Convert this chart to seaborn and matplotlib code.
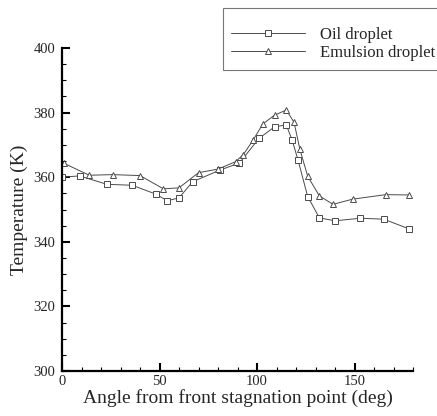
import matplotlib
matplotlib.use("Agg")
import matplotlib.pyplot as plt
from matplotlib.ticker import MultipleLocator
import seaborn as sns
import pandas as pd

oil_angle = [0, 9, 23, 36, 48, 54, 60, 67, 81, 91, 101, 109, 115, 118, 121, 126, 132, 140, 153, 165, 178]
oil_temp = [360, 360.4, 357.8, 357.5, 354.8, 352.7, 353.6, 358.6, 362.2, 364.4, 372, 375.6, 376.2, 371.5,
            365.4, 354, 347.4, 346.5, 347.3, 347, 344]

emu_angle = [1, 14, 26, 40, 52, 60, 70, 80, 89, 93, 98, 103, 109, 115, 119, 122, 126, 132, 139, 149, 166, 178]
emu_temp = [364.3, 360.6, 360.8, 360.5, 356.4, 356.7, 361.4, 362.5, 364.8, 367, 371.5, 376.5, 379.2, 380.8,
            377, 368.6, 360.3, 354.2, 351.6, 353.2, 354.6, 354.5]

series_labels = ["Oil droplet", "Emulsion droplet"]
x_ticks = [0, 50, 100, 150]
y_ticks = [300, 320, 340, 360, 380, 400]

sns.set_style("white")
plt.rcParams['font.family'] = ['Liberation Serif', 'DejaVu Serif']

fig = plt.figure(figsize=(4.37, 4.16), dpi=100)
ax = fig.add_axes([62/437, 1-371/416, (413-62)/437, (371-48)/416])

df_oil = pd.DataFrame({"angle": oil_angle, "temp": oil_temp})
df_emu = pd.DataFrame({"angle": emu_angle, "temp": emu_temp})

line_col = "#4a4a4a"
sns.lineplot(data=df_oil, x="angle", y="temp", ax=ax, color=line_col, lw=0.7,
             marker="s", markersize=4, markerfacecolor="white", markeredgecolor=line_col,
             markeredgewidth=0.7, label=series_labels[0], sort=False, estimator=None)
sns.lineplot(data=df_emu, x="angle", y="temp", ax=ax, color=line_col, lw=0.7,
             marker="^", markersize=5, markerfacecolor="white", markeredgecolor=line_col,
             markeredgewidth=0.7, label=series_labels[1], sort=False, estimator=None)

ax.set_xlim(0, 180)
ax.set_ylim(300, 400)
ax.set_xticks(x_ticks)
ax.set_yticks(y_ticks)
ax.xaxis.set_minor_locator(MultipleLocator(10))
ax.yaxis.set_minor_locator(MultipleLocator(5))
ax.tick_params(which="both", bottom=True, left=True, top=False, right=False)
ax.tick_params(which="major", direction="in", length=5.5, width=1.5, labelsize=10.5, color="black")
ax.tick_params(axis="y", which="major", pad=5)
ax.tick_params(axis="x", which="major", pad=3)
ax.tick_params(which="minor", direction="in", length=3, width=0.8, color="black")

for s in ["top", "right"]:
    ax.spines[s].set_visible(False)
for s in ["left", "bottom"]:
    ax.spines[s].set_linewidth(1.6)
    ax.spines[s].set_color("black")

ax.set_xlabel("Angle from front stagnation point (deg)", fontsize=14, labelpad=1)
ax.set_ylabel("Temperature (K)", fontsize=14, labelpad=4)

leg = ax.legend(loc="upper left", bbox_to_anchor=(223/437, 1-8/416), bbox_transform=fig.transFigure,
                fontsize=12, frameon=True, fancybox=False, handlelength=4.4, handletextpad=0.9,
                borderpad=0.5, labelspacing=0.12, borderaxespad=0, title=" ", title_fontsize=8)
leg.get_frame().set_edgecolor("#555555")
leg.get_frame().set_linewidth(0.8)

fig.savefig("out.png", dpi=100)
